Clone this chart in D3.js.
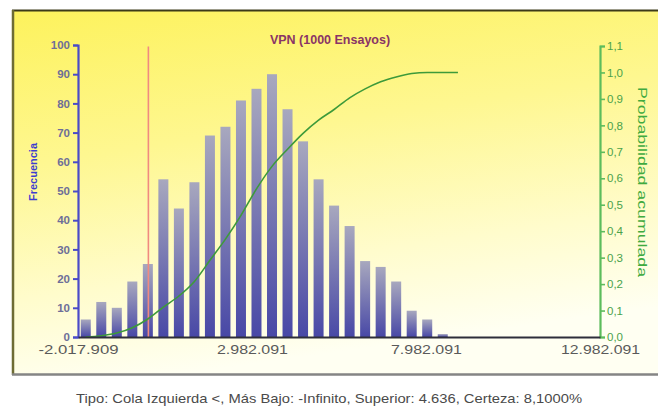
<!DOCTYPE html>
<html>
<head>
<meta charset="utf-8">
<script src="https://cdn.jsdelivr.net/npm/d3@7/dist/d3.min.js"></script>
<style>
  html, body { margin: 0; padding: 0; background: #ffffff; }
  svg { display: block; font-family: "Liberation Sans", Arial, sans-serif; }
</style>
</head>
<body>
<svg id="chart" width="658" height="413"></svg>
<script>
// Histogram of simulated VPN values (1000 trials)
const binStart = -2017909;
const binWidth = 446000;
const frequencies = [6, 12, 10, 19, 25, 54, 44, 53, 69, 72, 81, 85, 90, 78, 67, 54, 45, 38, 26, 24, 19, 9, 6, 1];

// Cumulative probability at each bin centre, then the plateau end point
const cumulativeProb = [0.0, 0.005, 0.015, 0.035, 0.068, 0.113, 0.155, 0.21, 0.29, 0.37, 0.46, 0.56, 0.645, 0.71, 0.77, 0.82, 0.86, 0.904, 0.938, 0.965, 0.983, 0.996, 1.0, 1.0];
const cumulativeEnd = [8900000, 1.0];

// Axis ticks
const xTicks = [-2017909, 2982091, 7982091, 12982091];
const xTickLabels = ["-2.017.909", "2.982.091", "7.982.091", "12.982.091"];
const freqTicks = [0, 10, 20, 30, 40, 50, 60, 70, 80, 90, 100];
const probTicks = [0, 0.1, 0.2, 0.3, 0.4, 0.5, 0.6, 0.7, 0.8, 0.9, 1.0, 1.1];

// Left-tail certainty marker
const upperBound = 4636;

const title = "VPN (1000 Ensayos)";
const caption = "Tipo: Cola Izquierda <, Más Bajo: -Infinito, Superior: 4.636, Certeza: 8,1000%";

const svg = d3.select("#chart");
const defs = svg.append("defs");

const bg = defs.append("linearGradient").attr("id", "bg")
  .attr("x1", 0).attr("y1", 0).attr("x2", 0.25).attr("y2", 1);
bg.append("stop").attr("offset", "0%").attr("stop-color", "#fdf25c");
bg.append("stop").attr("offset", "40%").attr("stop-color", "#fef790");
bg.append("stop").attr("offset", "75%").attr("stop-color", "#fffccc");
bg.append("stop").attr("offset", "100%").attr("stop-color", "#fffff2");

const barGrad = defs.append("linearGradient").attr("id", "barGrad")
  .attr("x1", 0).attr("y1", 0).attr("x2", 0).attr("y2", 1);
barGrad.append("stop").attr("offset", "0%").attr("stop-color", "#a8a8be");
barGrad.append("stop").attr("offset", "100%").attr("stop-color", "#4848a6");

// Panel
svg.append("rect").attr("x", 12).attr("y", 10).attr("width", 650).attr("height", 365)
  .attr("fill", "url(#bg)");
svg.append("line").attr("x1", 12).attr("x2", 658).attr("y1", 10.5).attr("y2", 10.5)
  .attr("stroke", "#3c3a18").attr("stroke-width", 2);
svg.append("line").attr("x1", 13).attr("x2", 13).attr("y1", 10).attr("y2", 375)
  .attr("stroke", "#6e6c34").attr("stroke-width", 2.5);
svg.append("line").attr("x1", 12).attr("x2", 658).attr("y1", 374.5).attr("y2", 374.5)
  .attr("stroke", "#858585").attr("stroke-width", 2.5);

// Scales
const x = d3.scaleLinear().domain([xTicks[0], xTicks[3]]).range([78, 600]);
const yFreq = d3.scaleLinear().domain([0, 100]).range([337, 45]);
const yProb = d3.scaleLinear().domain([0, 1.1]).range([337, 46]);

// Bars
const bins = frequencies.map((f, i) => ({
  lo: binStart + i * binWidth,
  hi: binStart + (i + 1) * binWidth,
  f
}));
const barW = 10;
svg.append("g").selectAll("rect").data(bins).join("rect")
  .attr("x", d => (x(d.lo) + x(d.hi)) / 2 - barW / 2)
  .attr("width", barW)
  .attr("y", d => yFreq(d.f))
  .attr("height", d => yFreq(0) - yFreq(d.f))
  .attr("fill", "url(#barGrad)");

// Certainty marker
svg.append("line")
  .attr("x1", x(upperBound)).attr("x2", x(upperBound))
  .attr("y1", yFreq(99.5)).attr("y2", yFreq(0))
  .attr("stroke", "#f08a80").attr("stroke-width", 1.6);

// Cumulative curve
const cumPoints = bins.map((b, i) => [(b.lo + b.hi) / 2, cumulativeProb[i]]);
cumPoints.push(cumulativeEnd);
svg.append("path").datum(cumPoints)
  .attr("fill", "none")
  .attr("stroke", "#3d9a3a")
  .attr("stroke-width", 1.6)
  .attr("d", d3.line().x(d => x(d[0])).y(d => yProb(d[1])).curve(d3.curveMonotoneX));

// Left axis (frequency)
const leftAxis = svg.append("g").attr("transform", "translate(78,0)")
  .call(d3.axisLeft(yFreq).tickValues(freqTicks).tickSize(5).tickPadding(3));
leftAxis.select(".domain").attr("stroke", "#4a4ac8").attr("stroke-width", 2.2);
leftAxis.selectAll(".tick line").attr("stroke", "#4a4ac8").attr("stroke-width", 2);
leftAxis.selectAll(".tick text").attr("fill", "#6e6e98").attr("font-size", 11.5).attr("font-weight", "bold");

// Right axis (cumulative probability)
const rightAxis = svg.append("g").attr("transform", "translate(600,0)")
  .call(d3.axisRight(yProb).tickValues(probTicks).tickSize(5).tickPadding(2)
    .tickFormat(d => d3.format(".1f")(d).replace(".", ",")));
rightAxis.select(".domain").attr("stroke", "#5cbc5c").attr("stroke-width", 2.2);
rightAxis.selectAll(".tick line").attr("stroke", "#5cbc5c").attr("stroke-width", 1.6);
rightAxis.selectAll(".tick text").attr("fill", "#4aa24a").attr("font-size", 11.5);

// Bottom axis
const xLabelWidths = [80, 71, 71, 79];
const bottomAxis = svg.append("g").attr("transform", "translate(0,337)")
  .call(d3.axisBottom(x).tickValues(xTicks).tickSize(0).tickPadding(8)
    .tickFormat((d, i) => xTickLabels[i]));
bottomAxis.select(".domain").attr("stroke", "#2e2e3a").attr("stroke-width", 2.2);
bottomAxis.selectAll(".tick text").attr("fill", "#5a5a5a").attr("font-size", 13)
  .attr("textLength", (d, i) => xLabelWidths[i]).attr("lengthAdjust", "spacingAndGlyphs");

// Titles
svg.append("text").attr("x", 330).attr("y", 44).attr("text-anchor", "middle")
  .attr("fill", "#8a3466").attr("font-size", 12.5).attr("font-weight", "bold").text(title);

svg.append("text").attr("transform", "translate(37,172) rotate(-90)")
  .attr("text-anchor", "middle").attr("fill", "#3c3cd0").attr("font-size", 11)
  .attr("font-weight", "bold").text("Frecuencia");

svg.append("text").attr("transform", "translate(638,182) rotate(90)")
  .attr("text-anchor", "middle").attr("fill", "#3faa3f").attr("font-size", 13)
  .attr("textLength", 190).attr("lengthAdjust", "spacingAndGlyphs")
  .text("Probabilidad acumulada");

svg.append("text").attr("x", 329).attr("y", 403).attr("text-anchor", "middle")
  .attr("fill", "#4a4a4a").attr("font-size", 13)
  .attr("textLength", 506).attr("lengthAdjust", "spacingAndGlyphs").text(caption);
</script>
</body>
</html>
